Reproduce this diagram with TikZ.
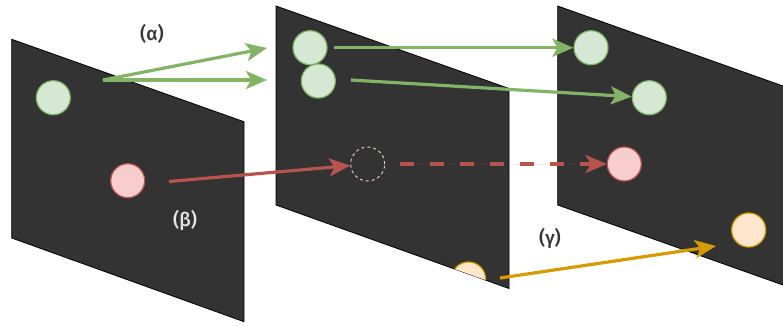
\documentclass[tikz,border=0pt]{standalone}
\usepackage{fontspec}
\setmainfont{Fira Sans}
\newfontfamily\tagfont{Fira Sans Medium}
\usetikzlibrary{arrows.meta}

\definecolor{panelfill}{HTML}{333333}
\definecolor{greenline}{HTML}{82B366}
\definecolor{greenfill}{HTML}{D5E8D4}
\definecolor{redline}{HTML}{B85450}
\definecolor{redfill}{HTML}{F8CECC}
\definecolor{orangeline}{HTML}{D79B00}
\definecolor{orangefill}{HTML}{FFE6CC}
\definecolor{labeldark}{HTML}{333333}
\definecolor{labellight}{HTML}{E6E6E6}

\tikzset{
  panel/.style={fill=panelfill, draw=black, line width=0.8pt},
  dot/.style={circle, minimum size=34pt, inner sep=0pt, line width=1.2pt},
  gdot/.style={dot, draw=greenline, fill=greenfill},
  rdot/.style={dot, draw=redline, fill=redfill},
  odot/.style={dot, draw=orangeline, fill=orangefill},
  ghostdot/.style={dot, draw=redfill!85!gray, line width=1pt, dash pattern=on 3pt off 3pt},
  flow/.style={line width=3.2pt, -{Stealth[length=21pt, width=18pt, inset=5pt]}},
  gflow/.style={flow, draw=greenline, fill=greenline},
  rflow/.style={flow, draw=redline, fill=redline},
  rdash/.style={rflow, dash pattern=on 14pt off 16pt},
  oflow/.style={flow, draw=orangeline, fill=orangeline},
  tag/.style={font=\tagfont\fontsize{19}{21}\selectfont, inner sep=0pt},
}

\begin{document}
\begin{tikzpicture}[x=1pt, y=-1pt]
  \useasboundingbox (0,0) rectangle (783,325);
  \clip (0,0) rectangle (783,325);

  % the three slanted planes
  \draw[panel] (11.7,39.3) -- (244,121.7) -- (244,321.7) -- (11.7,238) -- cycle;
  \draw[panel] (276,6) -- (509,88.5) -- (509,288.5) -- (276,205) -- cycle;
  \draw[panel] (557.7,6) -- (790,88.5) -- (790,287.5) -- (557.7,205) -- cycle;

  % points on the first plane
  \node[gdot] (g1) at (53.3,97.7) {};
  \node[rdot] (r1) at (127.7,180.7) {};

  % points on the second plane
  \node[gdot] (g2a) at (310,47.7) {};
  \node[gdot] (g2b) at (318.3,81) {};
  \node[ghostdot] (ghost) at (367.7,164) {};
  \begin{scope}
    \clip (276,6) -- (509,88.5) -- (509,288.5) -- (276,205) -- cycle;
    \node[odot] (o2) at (468.5,279) {};
  \end{scope}

  % points on the third plane
  \node[gdot] (g3a) at (591,47.7) {};
  \node[gdot] (g3b) at (649.3,97.7) {};
  \node[rdot] (r3) at (624.3,164) {};
  \node[odot] (o3) at (748.7,230) {};

  % arrow ends
  \coordinate (a0) at (103,80);
  \coordinate (a1) at (267,48);
  \coordinate (a2) at (267,80);
  \coordinate (b0) at (334,47.7);
  \coordinate (c0) at (351,80);
  \coordinate (d0) at (169,181.5);
  \coordinate (e0) at (400,164);
  \coordinate (f0) at (500,278);
  \coordinate (f1) at (716,246);

  % (alpha) split
  \draw[gflow] (a0) -- (a1);
  \draw[gflow] (a0) -- (a2);
  \draw[gflow] (b0) -- (g3a);
  \draw[gflow] (c0) -- (g3b);

  % (beta) vanish and reappear
  \draw[rflow] (d0) -- (ghost);
  \draw[rdash] (e0) -- (r3);

  % (gamma) late appearance
  \draw[oflow] (f0) -- (f1);

  % labels
  \node[tag, text=labeldark] (la) at (152,34) {(α)};
  \node[tag, text=labellight] (lb) at (185,220) {(β)};
  \node[tag, text=labeldark] (lc) at (550,238) {(γ)};
\end{tikzpicture}
\end{document}
